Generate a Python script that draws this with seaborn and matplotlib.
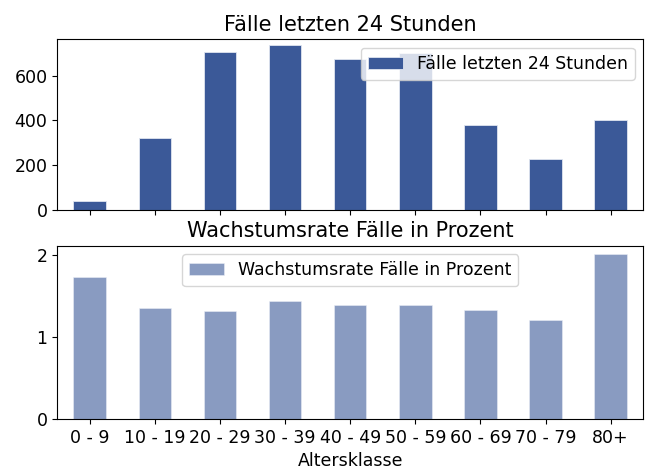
import matplotlib
matplotlib.use("Agg")
import matplotlib.pyplot as plt
import seaborn as sns

categories = ["0 - 9", "10 - 19", "20 - 29", "30 - 39", "40 - 49",
              "50 - 59", "60 - 69", "70 - 79", "80+"]
faelle_24h = [42, 322, 706, 736, 674, 700, 378, 228, 402]
wachstum = [1.73, 1.35, 1.31, 1.43, 1.39, 1.39, 1.33, 1.20, 2.01]

label_top = "Fälle letzten 24 Stunden"
label_bot = "Wachstumsrate Fälle in Prozent"

plt.rcParams['font.family'] = ['DejaVu Sans']
plt.rcParams['font.size'] = 12.5

fig = plt.figure(figsize=(6.57, 4.74), dpi=100)
ax1 = fig.add_axes([0.087, 0.557, 0.892, 0.360])
ax2 = fig.add_axes([0.087, 0.116, 0.892, 0.366], sharex=ax1)

sns.barplot(x=categories, y=faelle_24h, ax=ax1, color="#3b5998",
            saturation=1, width=0.5, label=label_top,
            edgecolor="#dfe5f0", linewidth=0.6)
sns.barplot(x=categories, y=wachstum, ax=ax2, color="#3b5998", alpha=0.6,
            saturation=1, width=0.5, label=label_bot,
            edgecolor="#eef1f7", linewidth=0.6)

ax1.set_title(label_top, fontsize=15)
ax2.set_title(label_bot, fontsize=15)
ax1.legend(loc="upper right", fontsize=12.5)
ax2.legend(loc="upper center", fontsize=12.5)
ax1.set_ylabel("")
ax2.set_ylabel("")
ax1.set_xlabel("")
ax2.set_xlabel("Altersklasse", fontsize=12.5)
ax1.tick_params(axis="x", labelbottom=False)
ax1.tick_params(labelsize=12.5)
ax2.tick_params(labelsize=12.5)
ax2.set_yticks([0, 1, 2])
ax1.set_ylim(0, 762)
ax1.set_xlim(-0.5, 8.5)

fig.savefig("out.png", dpi=100)
